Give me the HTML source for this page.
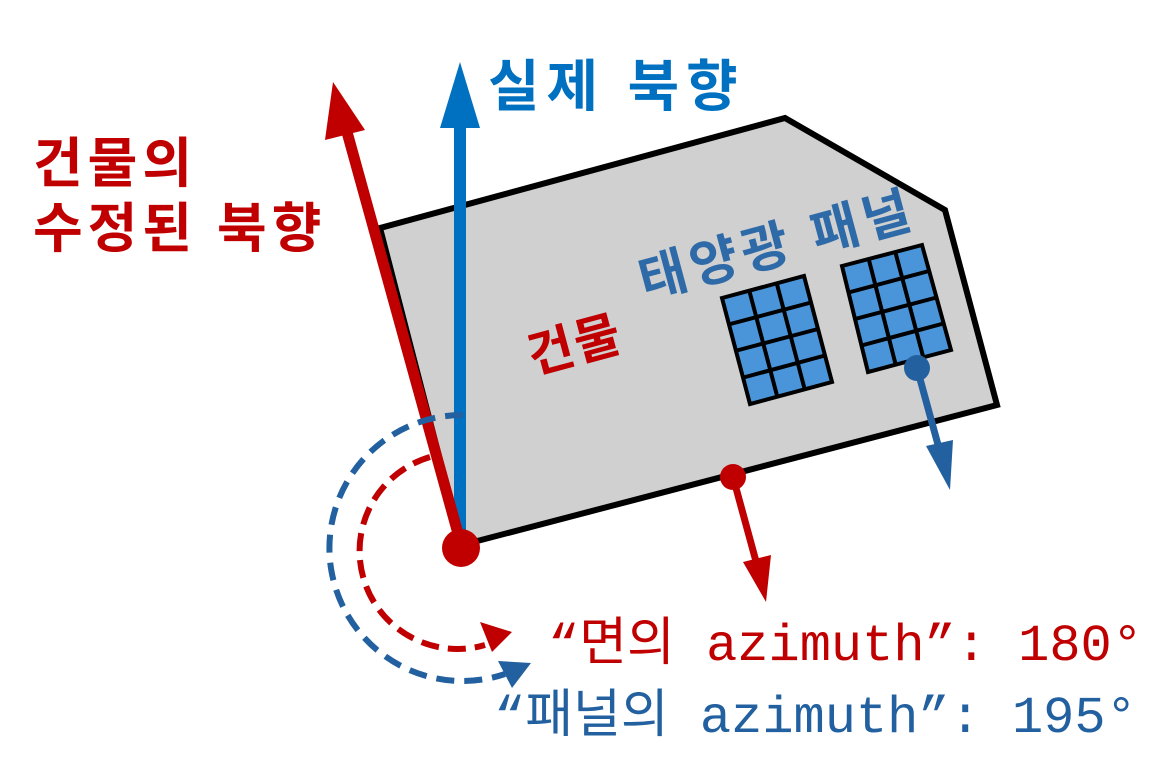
<!DOCTYPE html>
<html><head><meta charset="utf-8"><style>
body{margin:0;background:#fff;}
svg{display:block;}
.k{font-family:"Liberation Sans","Noto Sans CJK KR",sans-serif;font-weight:bold;}
.m{font-family:"Liberation Mono","Noto Sans CJK KR",monospace;}
</style></head><body>
<svg width="1175" height="781" viewBox="0 0 1175 781">
<polygon points="380,228 785,118 945,210 997,405 462,545" fill="#d0d0d0" stroke="#000" stroke-width="6" stroke-linejoin="miter"/>
<g stroke="#000" stroke-width="4" fill="#4a95d9">
<polygon points="722,298 804,276 832,382 750,404"/>
<line x1="749.3" y1="290.7" x2="777.3" y2="396.7"/><line x1="776.7" y1="283.3" x2="804.7" y2="389.3"/>
<line x1="728.5" y1="324.5" x2="811" y2="302.5"/><line x1="735" y1="351" x2="818" y2="329"/><line x1="743.5" y1="377.5" x2="825" y2="355.5"/>
</g>
<g stroke="#000" stroke-width="4" fill="#4a95d9">
<polygon points="842,266 922,245 951,350 868,372"/>
<line x1="868.7" y1="259" x2="895.7" y2="364.7"/><line x1="895.3" y1="252" x2="923.3" y2="357.3"/>
<line x1="848.5" y1="292.5" x2="929" y2="271"/><line x1="855" y1="319" x2="936.5" y2="297.5"/><line x1="861.5" y1="345.5" x2="943.5" y2="323.5"/>
</g>
<g fill="#0070c0">
<rect x="454" y="120" width="12" height="428"/>
<polygon points="460,62 440,128 480,128"/>
</g>
<g fill="#c00000">
<line x1="462" y1="548" x2="347" y2="132" stroke="#c00000" stroke-width="11"/>
<polygon points="333,82 325,140 365,130"/>
<circle cx="461" cy="548" r="19"/>
</g>
<g>
<path d="M430,457 A96,96 0 0 0 485,645" fill="none" stroke="#c00000" stroke-width="6" stroke-dasharray="18,9"/>
<polygon points="512,632 480,622 492,652" fill="#c00000"/>
</g>
<g>
<path d="M463,415 A133,133 0 1 0 505,674" fill="none" stroke="#22609f" stroke-width="6" stroke-dasharray="18,10"/>
<polygon points="531,663 498,661 512,688" fill="#22609f"/>
</g>
<g fill="#c00000">
<line x1="733" y1="477" x2="757" y2="565" stroke="#c00000" stroke-width="7"/>
<polygon points="766,602 743,562 771,555"/>
<circle cx="733" cy="477" r="13"/>
</g>
<g fill="#22609f">
<line x1="917" y1="368" x2="940" y2="452" stroke="#22609f" stroke-width="7"/>
<polygon points="950,490 926,446 953,440"/>
<circle cx="917" cy="368" r="13"/>
</g>
<text class="k" x="488" y="106" font-size="56" letter-spacing="7" fill="#0070c0">실제 북향</text>
<text class="k" x="33" y="182" font-size="54" letter-spacing="5" fill="#c00000">건물의</text>
<text class="k" x="33" y="247" font-size="54" letter-spacing="5" fill="#c00000">수정된 북향</text>
<text class="k" x="575" y="362" font-size="50" letter-spacing="2" fill="#c00000" text-anchor="middle" transform="rotate(-15 575 345)">건물</text>
<text class="k" x="777" y="263" font-size="52" letter-spacing="5" fill="#2e6aa8" text-anchor="middle" transform="rotate(-15 777 245)">태양광 패널</text>
<text class="m" x="548" y="660" font-size="52" fill="#c00000">“면의 azimuth”: 180°</text>
<text class="m" x="494" y="732" font-size="52" fill="#22609f">“패널의 azimuth”: 195°</text>
</svg>
</body></html>
